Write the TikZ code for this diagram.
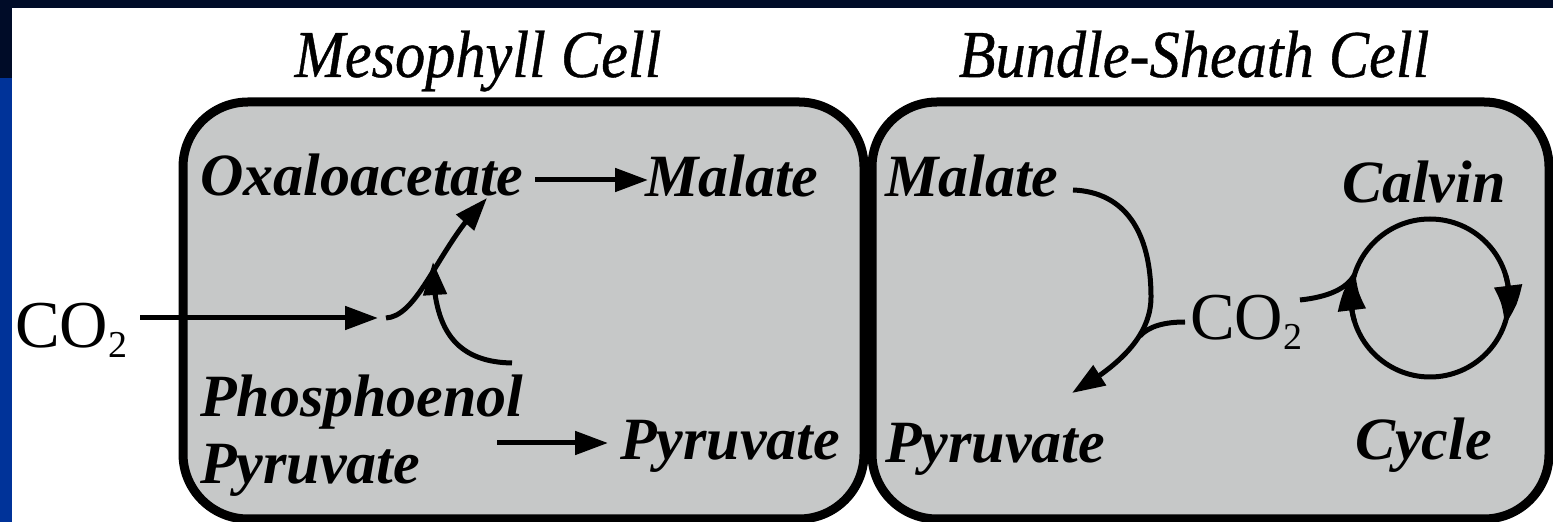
\documentclass[tikz,border=0pt]{standalone}
\usepackage{fontspec}
\setmainfont{Liberation Serif}
\newfontfamily\titlefont[FakeStretch=0.9,FakeBold=0.6]{Liberation Serif}
\usetikzlibrary{arrows.meta,calc,bending}
\definecolor{navy}{RGB}{0,12,40}
\definecolor{slideblue}{RGB}{0,51,153}
\definecolor{cellgray}{RGB}{198,200,200}
\newcommand\lowsub[1]{\raisebox{-10pt}{\fontsize{38}{38}\selectfont #1}}
\tikzset{
  cell/.style={draw=black, line width=9pt, fill=cellgray, rounded corners=65pt},
  celltitle/.style={anchor=base, inner sep=0pt, font=\titlefont\itshape\fontsize{67}{67}\selectfont},
  lbl/.style={anchor=base west, inner sep=0pt, font=\bfseries\itshape\fontsize{60}{60}\selectfont},
  chem/.style={anchor=base west, inner sep=0pt, font=\fontsize{67}{67}\selectfont},
  conn/.style={line width=5pt},
  arr/.style={conn, -{Triangle[length=33pt,width=23pt]}},
  bigarr/.style={conn, -{Triangle[length=40pt,width=27pt,bend]}},
}
\begin{document}
\begin{tikzpicture}[x=1pt,y=1pt]
\useasboundingbox (0,0) rectangle (1553,522);
\fill[white] (0,0) rectangle (1553,522);
\fill[navy] (0,514) rectangle (1553,522);
\fill[navy] (0,444) rectangle (12,522);
\fill[slideblue] (0,0) rectangle (12,444);
% cells
\draw[cell] (183,3) rectangle (864,420);
\draw[cell] (872,3) rectangle (1549,420);
% titles
\node[celltitle] (tM) at (478,445) {Mesophyll Cell};
\node[celltitle] (tB) at (1194,445) {Bundle-Sheath Cell};
% labels
\node[lbl] (oxa) at (200,326) {Oxaloacetate};
\node[lbl] (malL) at (645,325) {Malate};
\node[lbl] (malR) at (885,325) {Malate};
\node[lbl] (calvin) at (1342,319) {Calvin};
\node[lbl] (cycle) at (1355,62) {Cycle};
\node[lbl] (pep1) at (200,105) {Phosphoenol};
\node[lbl] (pep2) at (200,38) {Pyruvate};
\node[lbl] (pyrM) at (620,62) {Pyruvate};
\node[lbl] (pyrB) at (885,59) {Pyruvate};
\node[chem] (co2L) at (15,174) {CO\lowsub{2}};
\node[chem] (co2R) at (1190,182) {CO\lowsub{2}};
% Calvin cycle
\node[circle, draw, conn, minimum size=158pt, inner sep=0pt] (cyc) at (1430,224) {};
% coordinates
\coordinate (co2in) at (378,204);
\coordinate (fixs) at (386,204);
\coordinate (fixe) at (487,324);
\coordinate (peps) at (512,159);
\coordinate (pepe) at (433,260);
\coordinate (mals) at (1073,332);
\coordinate (malm) at (1151,225);
\coordinate (pyre) at (1072,129);
\coordinate (brj) at (1140,186);
% mesophyll connectors
\draw[arr] ($(oxa.base west)+(335,16)$) -- ($(malL.base west)+(3,17)$);
\draw[arr] ($(pyrM.base west)+(-123,17)$) -- ($(pyrM.base west)+(-12,17)$);
\draw[arr] ($(co2L.base west)+(125,30)$) -- (co2in);
\draw[arr] (fixs) .. controls (420,206) and (440,280) .. (fixe);
\draw[arr] (peps) .. controls (450,160) and (433,200) .. (pepe);
% bundle sheath connectors
\draw[arr] (mals) .. controls (1125,330) and (1151,290) .. (malm)
  .. controls (1151,180) and (1108,150) .. (pyre);
\draw[conn] ($(co2R.base west)+(-5,18)$) .. controls +(-20,0) and +(9,10) .. (brj);
\draw[conn] ($(co2R.base west)+(110,40)$) .. controls +(28,3) and +(-8,-14) .. ($(cyc.center)+(163:79)$);
\draw[bigarr] ($(cyc.center)+(197:79)$) arc[start angle=197, end angle=160, radius=79];
\draw[bigarr] ($(cyc.center)+(17:79)$) arc[start angle=17, end angle=-20, radius=79];
\end{tikzpicture}
\end{document}
